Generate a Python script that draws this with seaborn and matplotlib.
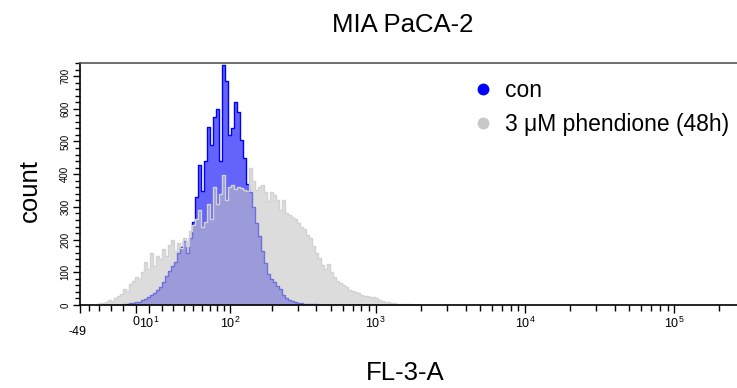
import numpy as np
import matplotlib
matplotlib.use("Agg")
import matplotlib.pyplot as plt
import matplotlib.transforms as mtransforms
from matplotlib.lines import Line2D
import seaborn as sns

sns.set_style("ticks")
plt.rcParams['font.family'] = ['Liberation Sans', 'DejaVu Sans']
plt.rcParams['mathtext.fontset'] = 'custom'
plt.rcParams['mathtext.rm'] = 'Liberation Sans'
for key in ['text.color', 'axes.labelcolor', 'xtick.color', 'ytick.color', 'axes.edgecolor']:
    plt.rcParams[key] = 'black'

# histogram counts per channel
con_counts = [0, 0, 0, 0, 0, 0, 0, 0, 1, 2, 3, 5, 6, 8, 10, 14, 18, 24, 30, 38,
              46, 56, 70, 90, 105, 118, 130, 160, 178, 196, 158, 205, 255, 330, 428, 350,
              440, 545, 490, 575, 600, 440, 735, 685, 520, 540, 620, 590, 505, 450,
              370, 345, 300, 250, 212, 165, 128, 95, 80, 70, 58, 48, 30, 22, 14, 12,
              8, 5, 5, 4, 3, 4, 3, 2, 0, 0, 0, 0, 0, 0, 0, 0, 0, 0, 0, 0,
              0, 0, 0, 0, 0, 0, 0, 0, 0, 0, 0, 0, 0, 0, 0, 0, 0, 0, 0, 0, 0, 0]
phen_counts = [2, 5, 7, 10, 14, 12, 20, 27, 35, 48, 42, 65, 72, 85, 78, 100, 130, 110, 160, 118,
               150, 140, 172, 150, 182, 200, 165, 190, 175, 205, 180, 225, 245, 262, 290, 240,
               255, 310, 262, 360, 310, 340, 397, 320, 360, 368, 355, 362, 358, 352,
               350, 420, 380, 352, 362, 366, 345, 318, 345, 335, 320, 292, 320, 282, 275, 270,
               262, 250, 240, 232, 215, 205, 180, 160, 145, 122, 110, 125, 100, 85, 72, 66,
               60, 55, 45, 42, 40, 37, 30, 27, 26, 25, 24, 20, 15, 12, 10, 8, 6, 5, 4, 3,
               3, 2, 2, 1, 1, 0]
series_labels = ["con", "3 μM phendione (48h)"]

x_major = [-49, 0, 10, 100, 1000, 10000, 100000]
x_major_labels = ["-49", "0", r"$\mathregular{10^{1}}$", r"$\mathregular{10^{2}}$",
                  r"$\mathregular{10^{3}}$", r"$\mathregular{10^{4}}$", r"$\mathregular{10^{5}}$"]
x_minor = [-40, -30, -20, -10] + [m * 10 ** k for k in range(1, 5) for m in range(2, 10)] + [200000]

W = 50.0  # biexponential-like width


def fwd(x):
    return np.arcsinh(np.asarray(x) / W)


def inv(u):
    return W * np.sinh(np.asarray(u))


# channel grid, uniform on display scale
edges = inv(np.linspace(-0.626, 4.367, len(con_counts) + 1))
centers = (edges[:-1] + edges[1:]) / 2

fig = plt.figure(figsize=(7.37, 3.88), dpi=100)
ax = fig.add_axes([80 / 737, 1 - 305 / 388, 1 - 80 / 737, (305 - 63) / 388])

sns.histplot(x=centers, weights=con_counts, bins=list(edges), element="step", fill=True,
             color="#0000ff", facecolor="#6464fa", edgecolor="#0000ff", linewidth=1.0, ax=ax)
sns.histplot(x=centers, weights=phen_counts, bins=list(edges), element="step", fill=True,
             color="#c3c3c3", facecolor=(0.765, 0.765, 0.765, 0.58), edgecolor="#d2d2d2",
             linewidth=1.0, ax=ax)

ax.set_xscale('function', functions=(fwd, inv))
ax.set_xlim(-49, 262144)
ax.set_ylim(0, 740)

ax.set_xticks(x_major)
ax.set_xticklabels(x_major_labels, fontsize=9)
ax.set_xticks(x_minor, minor=True)
ax.set_xticklabels([], minor=True)
ax.set_yticks(range(0, 701, 100))
ax.set_yticks(range(0, 741, 20), minor=True)
ax.tick_params(axis='y', which='major', labelsize=7, labelrotation=90, length=5, width=1, pad=2)
ax.tick_params(axis='y', which='minor', length=3.5, width=1)
ax.tick_params(axis='x', which='major', length=6, width=1, pad=2)
ax.tick_params(axis='x', which='minor', length=4.5, width=1)
for lab in ax.get_yticklabels():
    lab.set_verticalalignment('center')

# the "-49" label sits lower
lab0 = ax.get_xticklabels()[0]
lab0.set_transform(lab0.get_transform() + mtransforms.ScaledTranslation(-2 / 72, -7 / 72, fig.dpi_scale_trans))

ax.spines['right'].set_visible(False)
ax.spines['top'].set_color('#555555')
for s in ['left', 'bottom', 'top']:
    ax.spines[s].set_linewidth(1.2)

ax.set_xlabel("")
ax.set_ylabel("")
fig.text(30 / 737, 1 - 191 / 388, "count", rotation=90, ha='center', va='center', fontsize=18.5)
fig.text(405 / 737, 1 - 373 / 388, "FL-3-A", ha='center', va='center', fontsize=18.5)
fig.text(403 / 737, 1 - 25 / 388, "MIA PaCA-2", ha='center', va='center', fontsize=18.5)

handles = [Line2D([], [], marker='o', linestyle='none', markersize=7.5, color="#0000ff"),
           Line2D([], [], marker='o', linestyle='none', markersize=7.5, color="#c8c8c8")]
fig.legend(handles, series_labels, loc='upper left', bbox_to_anchor=(472 / 737, 1 - 79 / 388),
           frameon=False, fontsize=16.5, handlelength=1, handletextpad=0.45, labelspacing=0.5,
           borderpad=0, borderaxespad=0)

fig.savefig("out.png", dpi=100)
